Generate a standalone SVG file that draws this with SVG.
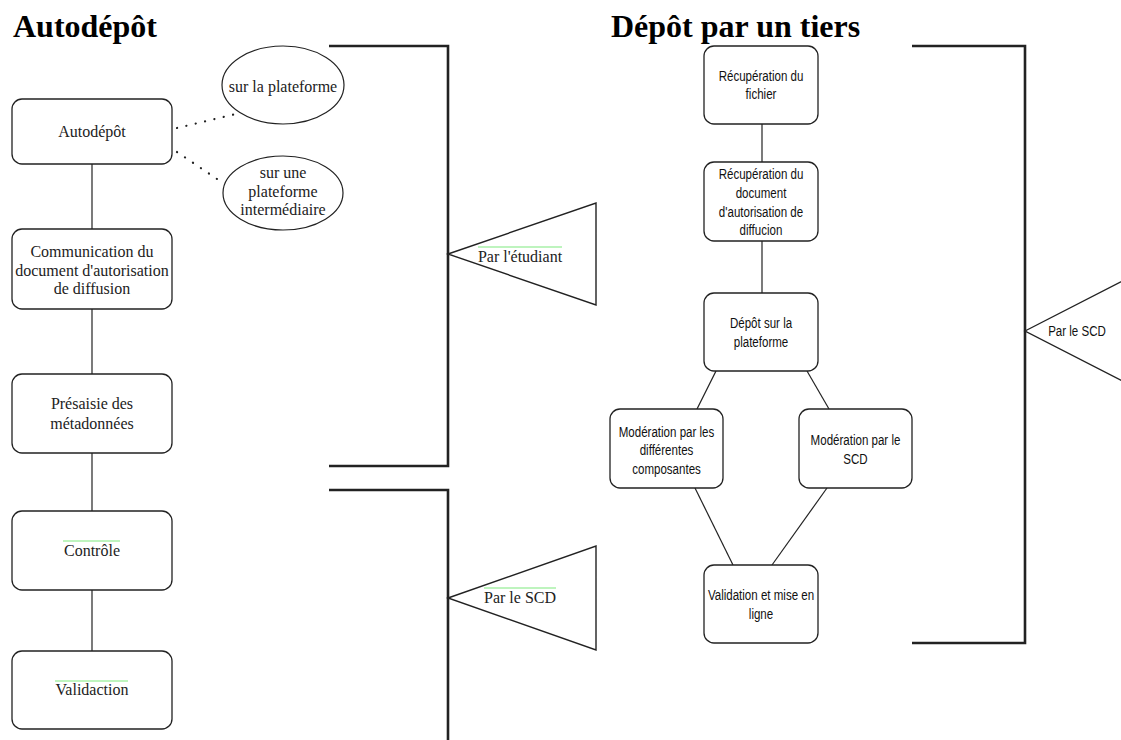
<svg xmlns="http://www.w3.org/2000/svg" width="1121" height="740" viewBox="0 0 1121 740">
<style>
.box{fill:#fff;stroke:#222;stroke-width:1.3}
.ell{fill:#fff;stroke:#222;stroke-width:1.2}
.ser{font-family:"Liberation Serif","Times New Roman",serif;font-size:16px;fill:#222;text-anchor:middle}
.sans{font-family:"Liberation Sans",Arial,sans-serif;font-size:15.5px;fill:#111;text-anchor:middle}
.head{font-family:"Liberation Serif","Times New Roman",serif;font-size:32px;font-weight:bold;fill:#000}
.ln{stroke:#222;stroke-width:1.2;fill:none}
.dot{stroke:#222;stroke-width:2.2;stroke-linecap:round;stroke-dasharray:0.1 9.5;fill:none}
.brk{stroke:#222;stroke-width:2.6;fill:none}
.tri{fill:#fff;stroke:#222;stroke-width:1.4}
.grn{stroke:#a8f0a8;stroke-width:1.3}
</style>
<rect width="1121" height="740" fill="#fff"/>
<text class="head" x="13" y="37">Autodépôt</text>
<text class="head" x="611" y="37">Dépôt par un tiers</text>

<g id="connectors">
<line class="ln" x1="92" y1="164" x2="92" y2="229"/>
<line class="ln" x1="92" y1="309" x2="92" y2="374"/>
<line class="ln" x1="92" y1="453" x2="92" y2="511"/>
<line class="ln" x1="92" y1="590" x2="92" y2="651"/>
<line class="dot" x1="177" y1="128" x2="240" y2="113"/>
<line class="dot" x1="177" y1="152" x2="223" y2="183"/>
<line class="ln" x1="762" y1="124" x2="762" y2="162"/>
<line class="ln" x1="762" y1="241" x2="762" y2="293"/>
<line class="ln" x1="716" y1="371" x2="697" y2="409"/>
<line class="ln" x1="807" y1="371" x2="829" y2="409"/>
<line class="ln" x1="695" y1="488" x2="733" y2="565"/>
<line class="ln" x1="827" y1="488" x2="772" y2="565"/>
</g>

<g id="n-autodepot"><rect class="box" x="12" y="99" width="160" height="65" rx="10"/><text class="ser" x="92" y="137">Autodépôt</text></g>
<g id="n-communication"><rect class="box" x="12" y="229" width="160" height="80" rx="10"/>
<text class="ser" x="92" y="257">Communication du</text><text class="ser" x="92" y="275.5">document d'autorisation</text><text class="ser" x="92" y="294">de diffusion</text></g>
<g id="n-presaisie"><rect class="box" x="12" y="374" width="160" height="79" rx="10"/>
<text class="ser" x="92" y="409">Présaisie des</text><text class="ser" x="92" y="429">métadonnées</text></g>
<g id="n-controle"><rect class="box" x="12" y="511" width="160" height="79" rx="10"/>
<line class="grn" x1="63" y1="541" x2="120" y2="541"/><text class="ser" x="92" y="556">Contrôle</text></g>
<g id="n-validaction"><rect class="box" x="12" y="651" width="160" height="78" rx="10"/>
<line class="grn" x1="55" y1="681" x2="128" y2="681"/><text class="ser" x="92" y="695">Validaction</text></g>

<g id="n-plateforme"><ellipse class="ell" cx="283" cy="85" rx="61" ry="39"/><text class="ser" x="283" y="92">sur la plateforme</text></g>
<g id="n-intermediaire"><ellipse class="ell" cx="283" cy="193" rx="60" ry="37"/>
<text class="ser" x="283" y="178">sur une</text><text class="ser" x="283" y="196.5">plateforme</text><text class="ser" x="283" y="215">intermédiaire</text></g>

<g id="bracket-etudiant"><path class="brk" d="M329,46 H448 V466 H329"/>
<polygon class="tri" points="448,254 596,203 596,305"/>
<line class="grn" x1="478" y1="247" x2="562" y2="247"/><text class="ser" x="520" y="262">Par l'étudiant</text></g>
<g id="bracket-scd-left"><path class="brk" d="M329,490 H448 V745"/>
<polygon class="tri" points="448,598 596,546 596,650"/>
<line class="grn" x1="484" y1="588" x2="556" y2="588"/><text class="ser" x="520" y="603">Par le SCD</text></g>

<g id="n-recup-fichier"><rect class="box" x="704" y="46" width="114" height="78" rx="10"/>
<g transform="translate(761,0) scale(0.745,1)"><text class="sans" x="0" y="81">Récupération du</text><text class="sans" x="0" y="99.5">fichier</text></g></g>
<g id="n-recup-doc"><rect class="box" x="704" y="162" width="114" height="79" rx="10"/>
<g transform="translate(761,0) scale(0.745,1)"><text class="sans" x="0" y="179">Récupération du</text><text class="sans" x="0" y="198">document</text><text class="sans" x="0" y="217">d'autorisation de</text><text class="sans" x="0" y="235.5">diffucion</text></g></g>
<g id="n-depot"><rect class="box" x="704" y="293" width="114" height="78" rx="10"/>
<g transform="translate(761,0) scale(0.745,1)"><text class="sans" x="0" y="328">Dépôt sur la</text><text class="sans" x="0" y="347">plateforme</text></g></g>
<g id="n-moderation-comp"><rect class="box" x="610" y="409" width="113" height="79" rx="10"/>
<g transform="translate(666.5,0) scale(0.745,1)"><text class="sans" x="0" y="437">Modération par les</text><text class="sans" x="0" y="455.5">différentes</text><text class="sans" x="0" y="474">composantes</text></g></g>
<g id="n-moderation-scd"><rect class="box" x="799" y="409" width="113" height="79" rx="10"/>
<g transform="translate(855.5,0) scale(0.745,1)"><text class="sans" x="0" y="445">Modération par le</text><text class="sans" x="0" y="464">SCD</text></g></g>
<g id="n-validation"><rect class="box" x="704" y="565" width="114" height="78" rx="10"/>
<g transform="translate(761,0) scale(0.745,1)"><text class="sans" x="0" y="600">Validation et mise en</text><text class="sans" x="0" y="619">ligne</text></g></g>

<g id="bracket-scd-right"><path class="brk" d="M912,46 H1025 V643 H912"/>
<polygon class="tri" points="1025,331 1175,254 1175,408"/>
<g transform="translate(1077,0) scale(0.745,1)"><text class="sans" x="0" y="336">Par le SCD</text></g></g>
</svg>
